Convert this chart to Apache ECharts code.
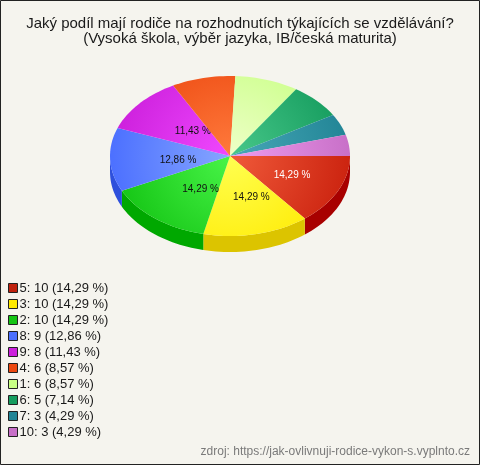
<!DOCTYPE html>
<html>
<head>
<meta charset="utf-8">
<script src="https://cdn.jsdelivr.net/npm/echarts@6/dist/echarts.min.js"></script>
<style>
  html, body { margin: 0; padding: 0; background: #f5f4ee; }
  #chart { width: 480px; height: 465px; }
</style>
</head>
<body>
<div id="chart"></div>
<script>
// data
const names = ['5', '3', '2', '8', '9', '4', '1', '6', '7', '10']
const values = [10, 10, 10, 9, 8, 6, 6, 5, 3, 3]
const percents = ['14,29', '14,29', '14,29', '12,86', '11,43', '8,57', '8,57', '7,14', '4,29', '4,29']
const titleLines = [
  'Jaký podíl mají rodiče na rozhodnutích týkajících se vzdělávání?',
  '(Vysoká škola, výběr jazyka, IB/česká maturita)'
]
const sourceText = 'zdroj: https://jak-ovlivnuji-rodice-vykon-s.vyplnto.cz'

// colours: base, lighter centre, side
const baseColors = ['#cc2410', '#ffea00', '#14c414', '#4c70ff', '#cc20dc', '#ec4810', '#c8ff84', '#159c5e', '#228596', '#c870c8']
const lightColors = ['#f05a3a', '#ffff50', '#48f448', '#86a6ff', '#f048ff', '#ff7a3c', '#eeffc8', '#48c88a', '#48a8b8', '#ee9cee']
const sideColors = ['#a80000', '#dcc400', '#00a800', '#2e50dc', '#a010b4', '#c43000', '#a8d868', '#0a7a44', '#146474', '#a050a0']
const labelColors = ['#ffffff', '#111', '#111', '#111', '#111', '#111', '#111', '#111', '#111', '#111']

const total = values.reduce((a, b) => a + b, 0)
const starts = []
let acc = 0
values.forEach(v => { starts.push(acc / total * 360); acc += v })

const CX = 230, CY = 156, RX = 120, RY = 80, DEPTH = 16

function arc (a0, a1, dy) {
  const pts = []
  const n = Math.max(2, Math.ceil((a1 - a0) / 2))
  for (let k = 0; k <= n; k++) {
    const a = (a0 + (a1 - a0) * k / n) * Math.PI / 180
    pts.push([CX + RX * Math.cos(a), CY + RY * Math.sin(a) + dy])
  }
  return pts
}

function renderItem (params, api) {
  const i = params.dataIndex
  const a0 = starts[i]
  const a1 = a0 + api.value(0) / total * 360
  const children = []

  // side wall, only front half visible
  const s = Math.max(a0, 0)
  const e = Math.min(a1, 180)
  if (e > s) {
    const pts = arc(s, e, 0).concat(arc(s, e, DEPTH).reverse())
    children.push({ type: 'polygon', shape: { points: pts }, style: { fill: sideColors[i] } })
  }

  // top face
  children.push({
    type: 'polygon',
    shape: { points: [[CX, CY]].concat(arc(a0, a1, 0)) },
    style: {
      fill: {
        type: 'radial', x: CX, y: CY, r: RX, global: true,
        colorStops: [{ offset: 0, color: lightColors[i] }, { offset: 1, color: baseColors[i] }]
      }
    }
  })

  if (api.value(0) / total >= 0.1) {
    const mid = (a0 + a1) / 2 * Math.PI / 180
    children.push({
      type: 'text',
      style: {
        x: CX + 0.5 * RX * Math.cos(mid) + 8,
        y: CY + 0.5 * RY * Math.sin(mid) + 2,
        text: percents[i] + ' %',
        fill: labelColors[i],
        font: '10px "Liberation Sans", Arial, sans-serif',
        align: 'center',
        verticalAlign: 'middle'
      }
    })
  }
  return { type: 'group', children }
}

const chart = echarts.init(document.getElementById('chart'))
chart.setOption({
  animation: false,
  backgroundColor: '#f5f4ee',
  color: baseColors,
  title: {
    text: titleLines.join('\n'),
    left: 'center',
    top: 11,
    textStyle: {
      fontSize: 15,
      fontWeight: 'normal',
      color: '#1a1a1a',
      lineHeight: 15,
      fontFamily: '"Liberation Sans", Arial, sans-serif'
    }
  },
  legend: {
    orient: 'vertical',
    left: 8,
    top: 280,
    padding: 0,
    icon: 'rect',
    itemWidth: 9,
    itemHeight: 9,
    itemGap: 0,
    selectedMode: false,
    data: names,
    itemStyle: { borderColor: '#222', borderWidth: 1 },
    textStyle: {
      fontSize: 13,
      lineHeight: 16,
      color: '#1a1a1a',
      padding: [0, 0, 0, -3],
      fontFamily: '"Liberation Sans", Arial, sans-serif'
    },
    formatter: name => {
      const i = names.indexOf(name)
      return name + ': ' + values[i] + ' (' + percents[i] + ' %)'
    }
  },
  graphic: [
    {
      type: 'rect',
      shape: { x: 0.5, y: 0.5, width: 479, height: 464 },
      style: { fill: 'none', stroke: '#222', lineWidth: 1 },
      silent: true
    },
    {
      type: 'text',
      right: 10,
      top: 446,
      style: {
        text: sourceText,
        fill: '#7a7a7a',
        font: '12px "Liberation Sans", Arial, sans-serif'
      }
    }
  ],
  series: [
    {
      // only feeds the legend
      type: 'pie',
      center: [-300, -300],
      radius: 5,
      silent: true,
      label: { show: false },
      data: names.map((n, i) => ({ name: n, value: values[i], itemStyle: { color: i === 0 ? '#c0220e' : baseColors[i] } }))
    },
    {
      type: 'custom',
      coordinateSystem: 'none',
      silent: true,
      renderItem: renderItem,
      data: values.map(v => [v])
    }
  ]
})
</script>
</body>
</html>
